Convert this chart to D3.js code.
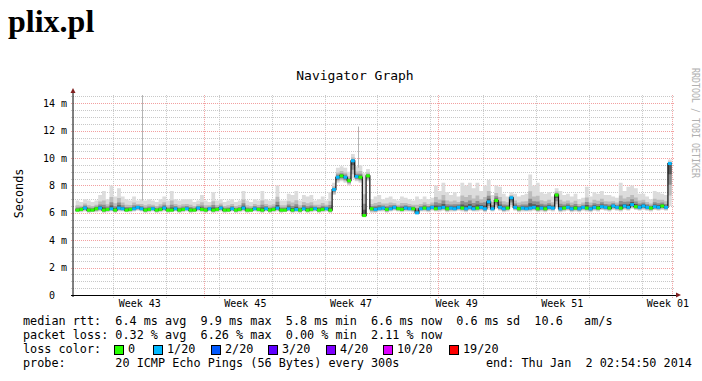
<!DOCTYPE html>
<html>
<head>
<meta charset="utf-8">
<script src="https://cdn.jsdelivr.net/npm/d3@7"></script>
<style>
  body { margin: 0; background: #fff; }
  svg text { font-family: "DejaVu Sans Mono", monospace; white-space: pre; }
</style>
</head>
<body>
<div id="chart"></div>
<script>
// samples every 12 hours starting here
var sampleStart = "2013-10-15T00:00:00Z";

var median = [
  6.2,6.25,6.35,6.2,6.2,6.3,6.35,6.2,6.25,6.3,
  6.2,6.35,6.3,6.2,6.25,6.3,6.4,6.3,6.2,6.25,
  6.3,6.2,6.25,6.35,6.2,6.2,6.3,6.2,6.25,6.3,
  6.2,6.2,6.35,6.25,6.2,6.3,6.2,6.25,6.35,6.2,
  6.2,6.3,6.2,6.25,6.35,6.2,6.2,6.3,6.25,6.2,
  6.3,6.2,6.25,6.35,6.2,6.2,6.3,6.2,6.25,6.2,
  6.3,6.2,6.25,6.3,6.2,6.25,6.3,6.2,
  7.7,8.6,8.7,8.6,8.35,9.8,8.65,8.6,5.8,8.7,6.3,6.25,
  6.3,6.35,6.25,6.3,6.4,6.3,6.25,6.35,6.3,6.3,
  6.0,6.3,6.35,6.3,6.4,6.3,6.35,6.4,6.3,6.35,
  6.3,6.4,6.35,6.3,6.4,6.3,6.35,6.4,6.3,6.8,
  6.3,6.9,6.4,6.3,6.35,7.1,6.4,6.3,6.35,6.3,
  6.35,6.4,6.3,6.35,6.3,6.4,6.35,7.3,6.3,6.35,
  6.4,6.3,6.35,6.3,6.4,6.35,6.3,6.4,6.35,6.45,
  6.4,6.35,6.5,6.4,6.35,6.5,6.4,6.6,6.45,6.4,
  6.5,6.4,6.35,6.45,6.4,6.5,6.4,9.6
];

var smokeLo = [
  6.05,6.05,6.1,6.0,6.05,6.05,6.1,6.0,6.05,6.1,
  6.0,6.1,6.1,6.05,6.05,6.1,6.15,6.1,6.0,6.05,
  6.1,6.0,6.05,6.1,6.0,6.05,6.1,6.0,6.05,6.1,
  6.0,6.05,6.1,6.05,6.0,6.1,6.0,6.05,6.1,6.0,
  6.05,6.1,6.0,6.05,6.1,6.0,6.05,6.1,6.05,6.0,
  6.1,6.0,6.05,6.1,6.0,6.05,6.1,6.0,6.05,6.0,
  6.1,6.0,6.05,6.1,6.0,6.05,6.1,6.0,
  7.3,8.2,8.3,8.2,8.0,8.5,8.3,8.2,5.7,8.3,6.0,6.0,
  6.1,6.1,6.0,6.1,6.15,6.1,6.05,6.1,6.1,6.05,
  5.9,6.1,6.1,6.05,6.15,6.1,6.1,6.15,6.05,6.1,
  6.1,6.15,6.1,6.05,6.15,6.1,6.1,6.15,6.05,6.2,
  6.1,6.3,6.15,6.05,6.1,6.4,6.15,6.05,6.1,6.1,
  6.1,6.15,6.05,6.1,6.05,6.15,6.1,6.4,6.05,6.1,
  6.15,6.05,6.1,6.05,6.15,6.1,6.05,6.15,6.1,6.2,
  6.15,6.1,6.2,6.15,6.1,6.2,6.15,6.3,6.2,6.15,
  6.2,6.15,6.1,6.2,6.15,6.2,6.15,6.5
];

var smokeHi = [
  6.9,6.8,7.0,6.9,6.8,6.9,7.3,7.6,7.0,8.0,
  7.2,7.8,7.2,7.0,6.9,7.2,6.9,7.0,6.9,7.0,
  6.9,6.8,7.0,7.2,6.9,7.6,7.0,6.9,7.0,7.0,
  7.0,6.8,6.9,7.3,6.9,6.8,7.5,6.9,7.0,6.8,
  6.9,7.0,6.8,6.9,7.6,6.9,6.8,7.0,6.9,7.6,
  7.0,6.9,7.0,8.0,6.9,6.9,7.4,7.3,7.6,6.9,
  7.3,7.2,7.3,6.9,7.0,7.2,6.9,7.5,
  8.2,9.3,9.4,9.3,9.0,10.3,9.4,9.5,8.9,9.2,7.0,7.2,
  7.3,7.0,7.1,7.2,7.0,6.9,7.2,7.1,7.0,6.9,
  7.2,7.0,7.2,7.0,7.1,8.0,7.6,8.2,7.5,7.3,
  7.5,7.2,8.2,8.0,8.2,7.8,8.2,7.6,8.0,8.4,
  7.3,8.0,7.9,7.4,7.2,7.5,7.4,7.2,7.3,7.4,
  8.8,8.0,8.2,7.5,7.4,7.5,7.2,7.8,7.6,7.3,
  7.4,7.2,7.4,7.0,7.1,7.9,7.2,7.5,7.4,7.6,
  7.3,7.3,7.2,7.1,8.2,7.6,7.9,8.0,7.8,7.4,
  7.4,7.2,7.0,7.6,7.5,7.4,7.3,9.9
];

// lost pings out of 20
var lossCount = [
  0,0,1,0,0,0,1,0,0,1,
  0,1,1,0,0,1,1,1,0,0,
  1,0,0,1,0,0,1,0,0,1,
  0,0,1,0,0,1,0,0,1,0,
  0,1,0,0,1,0,0,1,0,0,
  1,0,0,1,0,0,1,0,1,0,
  1,0,0,1,0,0,1,0,
  1,1,0,1,0,1,1,0,0,0,0,1,
  1,1,0,1,1,0,0,1,1,0,
  1,1,0,1,1,0,1,1,0,1,
  1,1,0,1,1,1,0,1,1,1,
  1,0,1,1,0,1,1,0,1,1,
  1,1,0,1,0,1,1,0,1,0,
  1,1,0,1,1,0,1,1,0,1,
  1,0,1,1,0,1,1,1,0,1,
  1,1,0,1,1,0,1,1
];

// single slow pings shown as thin lines
var spikeDates = ["2013-10-23T19:00:00Z", "2013-11-21T10:20:00Z"];
var spikeTops = [14.6, 12.3];
var spikeBases = [6.9, 9.3];

var weekStarts = ["2013-10-20", "2013-11-03", "2013-11-17", "2013-12-01", "2013-12-15", "2013-12-29"];
var weekLabels = ["Week 43", "Week 45", "Week 47", "Week 49", "Week 51", "Week 01"];
var monthLines = ["2013-11-01", "2013-12-02", "2014-01-02"];

var yMajor = [0, 2, 4, 6, 8, 10, 12, 14];

var lossLevels = [0, 1, 2, 3, 4, 10, 19];
var lossLabels = ["0", "1/20", "2/20", "3/20", "4/20", "10/20", "19/20"];
var lossColors = ["#26ff00", "#00b8ff", "#0059ff", "#5e00ff", "#7e00ff", "#dd00ff", "#ff0000"];

var legendRows = [
  "median rtt:  6.4 ms avg  9.9 ms max  5.8 ms min  6.6 ms now  0.6 ms sd  10.6   am/s",
  "packet loss: 0.32 % avg  6.26 % max  0.00 % min  2.11 % now",
  "loss color:",
  "probe:       20 ICMP Echo Pings (56 Bytes) every 300s"
];
var endText = "end: Thu Jan  2 02:54:50 2014";

var W = 702, H = 381;
var pLeft = 73, pRight = 673, pTop = 95.08, pBottom = 295;

var svg = d3.select("#chart").append("svg")
  .attr("width", W).attr("height", H);

svg.append("rect").attr("width", W).attr("height", H).attr("fill", "#fff");

var x = d3.scaleUtc()
  .domain([new Date("2013-10-14T15:49:00Z"), new Date("2014-01-02T04:08:00Z")])
  .range([pLeft, pRight]);
var y = d3.scaleLinear().domain([0, 14.6]).range([pBottom, pTop]);

// title
svg.append("text").attr("x", 8).attr("y", 32)
  .style("font-family", "'Liberation Serif', 'Times New Roman', serif")
  .style("font-weight", "bold").style("font-size", "32px")
  .text("plix.pl");

svg.append("text").attr("x", 355).attr("y", 80)
  .attr("text-anchor", "middle").style("font-size", "13px")
  .text("Navigator Graph");

// grid
var grid = svg.append("g");
var minorY = d3.range(0.5, 14.6, 0.5).filter(function(v) { return v % 2 !== 0; });
grid.selectAll(".hmin").data(minorY).enter().append("line")
  .attr("x1", pLeft - 2).attr("x2", pRight + 2)
  .attr("y1", function(d) { return Math.round(y(d)) + 0.5; })
  .attr("y2", function(d) { return Math.round(y(d)) + 0.5; })
  .attr("stroke", "#c8c8c8").attr("stroke-dasharray", "1,1");

var sundays = d3.utcSunday.range(x.domain()[0], x.domain()[1]);
grid.selectAll(".vmin").data(sundays).enter().append("line")
  .attr("x1", function(d) { return Math.round(x(d)) + 0.5; })
  .attr("x2", function(d) { return Math.round(x(d)) + 0.5; })
  .attr("y1", pTop).attr("y2", pBottom + 3)
  .attr("stroke", "#c8c8c8").attr("stroke-dasharray", "1,1");

grid.selectAll(".hmaj").data(yMajor.slice(1)).enter().append("line")
  .attr("x1", pLeft - 2).attr("x2", pRight + 2)
  .attr("y1", function(d) { return Math.round(y(d)) + 0.5; })
  .attr("y2", function(d) { return Math.round(y(d)) + 0.5; })
  .attr("stroke", "#f2a0a0").attr("stroke-dasharray", "1,1");

grid.selectAll(".vmaj").data(monthLines).enter().append("line")
  .attr("x1", function(d) { return Math.round(x(new Date(d + "T00:00:00Z"))) + 0.5; })
  .attr("x2", function(d) { return Math.round(x(new Date(d + "T00:00:00Z"))) + 0.5; })
  .attr("y1", pTop).attr("y2", pBottom + 3)
  .attr("stroke", "#f2a0a0").attr("stroke-dasharray", "1,1");

// data
var t0 = new Date(sampleStart);
var times = d3.utcHour.every(12).range(t0, d3.utcHour.offset(t0, 12 * (median.length + 1)));
var samples = median.map(function(m, i) {
  return { t: times[i], t1: times[i + 1], med: m, lo: smokeLo[i], hi: smokeHi[i], loss: lossCount[i] };
});
var lastS = samples[samples.length - 1];
var stepData = samples.concat([Object.assign({}, lastS, { t: lastS.t1 })]);

svg.append("clipPath").attr("id", "plot").append("rect")
  .attr("x", pLeft).attr("y", pTop).attr("width", pRight - pLeft).attr("height", pBottom - pTop);
var plot = svg.append("g").attr("clip-path", "url(#plot)");

// smoke: outer bands light, inner bands dark
var bands = [
  { fill: "#dcdcdc", a: 0, b: 1 },
  { fill: "#bcbcbc", a: 0.25, b: 0.5 },
  { fill: "#8e8e8e", a: 0.5, b: 0.28 },
  { fill: "#5a5a5a", a: 0.75, b: 0.14 }
];
bands.forEach(function(band) {
  var area = d3.area().curve(d3.curveStepAfter)
    .x(function(d) { return x(d.t); })
    .y0(function(d) { return y(d.lo + band.a * (d.med - d.lo)); })
    .y1(function(d) { return y(d.med + band.b * (d.hi - d.med)); });
  plot.append("path").datum(stepData).attr("d", area).attr("fill", band.fill);
});

plot.selectAll(".spike").data(spikeDates).enter().append("line")
  .attr("x1", function(d) { return Math.round(x(new Date(d))) + 0.5; })
  .attr("x2", function(d) { return Math.round(x(new Date(d))) + 0.5; })
  .attr("y1", function(d, i) { return y(spikeBases[i]); })
  .attr("y2", function(d, i) { return y(spikeTops[i]); })
  .attr("stroke", "#b4b4b4").attr("stroke-width", 1);

var medLine = d3.line().curve(d3.curveStepAfter)
  .x(function(d) { return x(d.t); })
  .y(function(d) { return y(d.med); });
plot.append("path").datum(stepData).attr("d", medLine)
  .attr("fill", "none").attr("stroke", "#101010").attr("stroke-width", 1.2);

// colored median pieces by loss class
function lossClass(n) {
  var c = 0;
  lossLevels.forEach(function(l, i) { if (n >= l) c = i; });
  return c;
}
plot.selectAll(".seg").data(samples).enter().append("line")
  .attr("x1", function(d) { return x(d.t); })
  .attr("x2", function(d) { return x(d.t1); })
  .attr("y1", function(d) { return y(d.med); })
  .attr("y2", function(d) { return y(d.med); })
  .attr("stroke", function(d) { return lossColors[lossClass(d.loss)]; })
  .attr("stroke-width", 3);

// axes
svg.append("line").attr("x1", pLeft - 2).attr("x2", pRight + 4)
  .attr("y1", pBottom + 0.5).attr("y2", pBottom + 0.5).attr("stroke", "#000");
svg.append("line").attr("x1", pLeft).attr("x2", pLeft)
  .attr("y1", pBottom + 2).attr("y2", pTop - 3).attr("stroke", "#000");
svg.append("path").attr("d", "M70.5,93L75.5,93L73,88Z").attr("fill", "#802020");
svg.append("path").attr("d", "M676,292.5L676,297.5L681,295Z").attr("fill", "#802020");

svg.selectAll(".ylab").data(yMajor).enter().append("text")
  .attr("x", 67).attr("y", function(d) { return y(d) + 3.5; })
  .attr("text-anchor", "end").style("font-size", "10px")
  .text(function(d) { return d === 0 ? "0  " : d + " m"; });

svg.selectAll(".xlab").data(weekStarts).enter().append("text")
  .attr("x", function(d) { return x(d3.utcHour.offset(new Date(d + "T00:00:00Z"), 84)); })
  .attr("y", 307).attr("text-anchor", "middle").style("font-size", "10px")
  .text(function(d, i) { return weekLabels[i]; });

svg.append("text").attr("transform", "translate(22.5,193.5) rotate(-90)")
  .attr("text-anchor", "middle").style("font-size", "11.8px").text("Seconds");

svg.append("text").attr("transform", "translate(692,68) rotate(90)")
  .attr("textLength", 110).attr("lengthAdjust", "spacingAndGlyphs")
  .style("font-size", "10px").attr("fill", "#b0b0b0")
  .text("RRDTOOL / TOBI OETIKER");

// legend
var rowY = [325, 339, 353, 367];
svg.selectAll(".leg").data(legendRows).enter().append("text")
  .attr("x", 23).attr("y", function(d, i) { return rowY[i]; })
  .style("font-size", "11.8px").text(function(d) { return d; });
svg.append("text").attr("x", 486).attr("y", rowY[3])
  .style("font-size", "11.8px").text(endText);

var boxX = [114, 153, 211, 268, 326, 383, 449];
var leg = svg.selectAll(".lbox").data(lossLabels).enter().append("g");
leg.append("rect")
  .attr("x", function(d, i) { return boxX[i] + 0.5; }).attr("y", 345.5)
  .attr("width", 9).attr("height", 9)
  .attr("fill", function(d, i) { return lossColors[i]; }).attr("stroke", "#000");
leg.append("text")
  .attr("x", function(d, i) { return boxX[i] + 14; }).attr("y", rowY[2])
  .style("font-size", "11.8px").text(function(d) { return d; });
</script>
</body>
</html>
